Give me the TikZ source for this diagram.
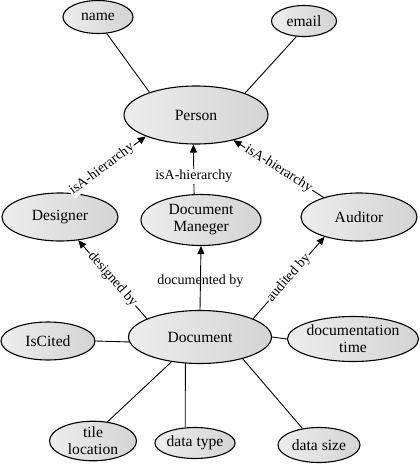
\documentclass[tikz,border=0pt]{standalone}
\usepackage{fontspec}
\setmainfont{Liberation Serif}
\usetikzlibrary{shapes.geometric,arrows.meta}
\begin{document}
\begin{tikzpicture}[x=1pt,y=-1pt,
  ent/.style={ellipse,draw,line width=1.1pt,inner sep=0pt,align=center,
    left color=gray!14,right color=gray!34,
    font=\fontsize{15.6}{17}\selectfont},
  conn/.style={line width=0.9pt},
  arr/.style={line width=0.9pt,-{Triangle[length=8pt,width=7pt]}},
  lab/.style={font=\fontsize{14}{16}\selectfont,inner sep=1pt},
  wlab/.style={lab,fill=white}]
\useasboundingbox (0,0) rectangle (420,464);
\node[ent,minimum width=70pt,minimum height=33pt] (name) at (98,17) {name};
\node[ent,minimum width=65pt,minimum height=31pt] (email) at (304,21) {email};
\node[ent,minimum width=144pt,minimum height=58pt] (person) at (196,115) {Person};
\node[ent,minimum width=116pt,minimum height=48pt] (designer) at (60,217) {Designer};
\node[ent,minimum width=120pt,minimum height=51pt] (dm) at (201,220) {Document\\Maneger};
\node[ent,minimum width=116pt,minimum height=48pt] (auditor) at (359,217) {Auditor};
\node[ent,minimum width=143pt,minimum height=53pt] (doc) at (200,337) {Document};
\node[ent,minimum width=94pt,minimum height=38pt] (iscited) at (48,341) {IsCited};
\node[ent,minimum width=110pt,minimum height=45pt] (doctime) at (353,339) {documentation\\time};
\node[ent,minimum width=87pt,minimum height=36pt] (tile) at (93,441) {tile\\location};
\node[ent,minimum width=72pt,minimum height=31pt] (dtype) at (195,443) {data type};
\node[ent,minimum width=82pt,minimum height=35pt] (dsize) at (319,445) {data size};

\draw[conn] (name.-62) -- (person.154.4);
\draw[conn] (email.-116.6) -- (person.24.2);
\draw[arr] (designer.67.4) -- node[wlab,sloped,pos=0.42] {isA-hierarchy} (person.-157.5);
\draw[arr] (dm.105.8) -- node[wlab,pos=0.36] {isA-hierarchy} (person.-95.9);
\draw[arr] (auditor.151.5) -- node[wlab,sloped,pos=0.5] {isA-hierarchy} (person.-34.7);
\draw[arr] (doc.161.6) -- node[wlab,sloped,pos=0.5] {designed by} (designer.-52);
\draw[arr] (doc.north) -- node[lab,pos=0.45] {documented by} (dm.south);
\draw[arr] (doc.19.7) -- node[wlab,sloped,pos=0.5] {audited by} (auditor.-150.9);
\draw[conn] (doc.184) -- (iscited.east);
\draw[conn] (doc.east) -- (doctime.west);
\draw[conn] (doc.-139) -- (tile.53.6);
\draw[conn] (doc.-119.6) -- (dtype.122.7);
\draw[conn] (doc.-27) -- (dsize.135);
\end{tikzpicture}
\end{document}
